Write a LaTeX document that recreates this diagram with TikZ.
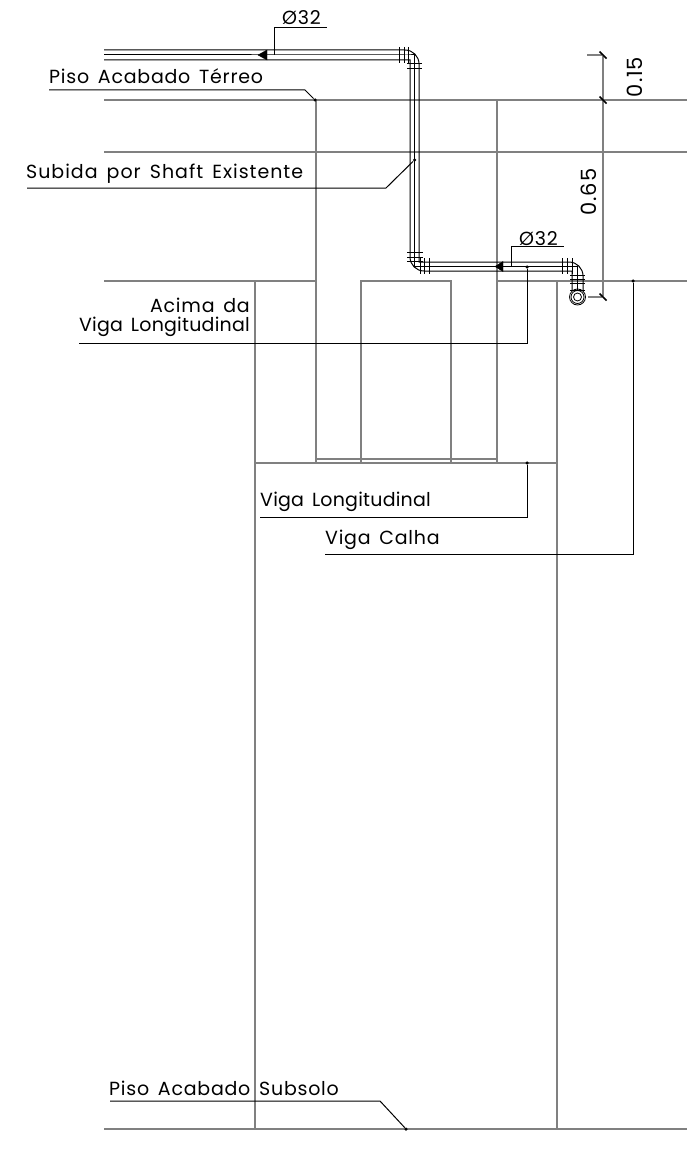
\documentclass[tikz,border=0pt]{standalone}
\usepackage{fontspec}
\usepackage{tikz}
\usetikzlibrary{calc}
\usetikzlibrary{positioning}
\setmainfont{Poppins}
\newfontfamily\cadfont[LetterSpace=4,WordSpace=1.5]{Poppins}
\newfontfamily\cadtight[LetterSpace=1.2,WordSpace=1.5]{Poppins}
\newfontfamily\cadwide[LetterSpace=5.2,WordSpace=1.5]{Poppins}
\tikzset{circ/.style = {fill, circle, inner sep = 0, minimum size = 3.5}}
\tikzset{lbl/.style = {inner sep = 0, font = \cadfont\fontsize{19}{19}\selectfont}}
\tikzset{lbltight/.style = {lbl, font = \cadtight\fontsize{19}{19}\selectfont}}
\tikzset{lblwide/.style = {lbl, font = \cadwide\fontsize{19}{19}\selectfont}}
\tikzset{lbldim/.style = {lbl, font = \cadfont\fontsize{21}{21}\selectfont, rotate = 90}}
\tikzset{wall/.style = {draw = mgrey, line width = 1.2}}
\tikzset{lead/.style = {draw = black, line width = 1}}
\tikzset{pipe/.style = {draw = black, line width = 1}}
\tikzset{dimtick/.style = {draw = black, line width = 1.5}}
\tikzset{flowtip/.style = {fill = black, draw = black, line join = miter}}
\definecolor{mgrey}{rgb}{0.5, 0.5, 0.5}
\begin{document}
\begin{tikzpicture}[x=1pt, y=-1pt]
      \useasboundingbox [fill=white] (0, 0) rectangle (687, 1153);

      % structure
      \draw [wall] (104, 100) -- (687, 100);
      \draw [wall] (104, 152) -- (687, 152);
      \draw [wall] (104, 281) -- (316, 281);
      \draw [wall] (497, 281) -- (687, 281);
      \draw [wall] (104, 1129) -- (687, 1129);
      \draw [wall] (316, 100) -- (316, 463);
      \draw [wall] (497, 100) -- (497, 463);
      \draw [wall] (255, 281) -- (255, 1129);
      \draw [wall] (557, 281) -- (557, 1129);
      \draw [wall] (361, 463) -- (361, 281) -- (451, 281) -- (451, 463);
      \draw [wall] (255, 463) -- (557, 463);
      \draw [wall] (316, 459) -- (497, 459);

      % dimensions
      \node (dimTop) [inner sep = 0] at (603, 55) {};
      \node (dimMid) [inner sep = 0] at (603, 100) {};
      \node (dimBot) [inner sep = 0] at (603, 297) {};
      \draw [wall] (dimTop) -- (dimBot);
      \draw [wall] (587, 55) -- (dimTop);
      \draw [wall] (587, 100) -- (dimMid);
      \draw [wall] (588, 297) -- (dimBot);
      \foreach \p in {dimTop, dimMid, dimBot}
        \draw [dimtick] ($(\p) + (-3.5, -3.5)$) -- ($(\p) + (3.5, 3.5)$);
      \node (dimA) [lbldim] at (634.5, 77) {0.15};
      \node (dimB) [lbldim] at (588.5, 192) {0.65};

      % pipe
      \draw [pipe] (104, 50) -- (405, 50) arc (-90:0:14) -- (419, 248) -- (419, 262) -- (569, 262) arc (-90:0:14) -- (583, 290);
      \draw [pipe] (104, 55) -- (408, 55) -- (414.5, 55) -- (414.5, 266.5) -- (577.5, 266.5) -- (577.5, 290);
      \draw [pipe] (104, 60) -- (410, 60) -- (410, 257) arc (180:90:14) -- (424, 271) -- (572, 271) -- (572, 290);
      \foreach \x in {399, 404, 408}
        \draw [pipe] (\x, 47) -- (\x, 63);
      \foreach \y in {64, 69}
        \draw [pipe] (407, \y) -- (422, \y);
      \foreach \y in {252, 257, 261}
        \draw [pipe] (407, \y) -- (423, \y);
      \foreach \x in {420, 424, 429, 562, 567, 572}
        \draw [pipe] (\x, 258) -- (\x, 274);
      \foreach \y in {275, 279, 283, 290}
        \draw [pipe] (570, \y) -- (585, \y);
      \node (riser) [circle, draw, line width = 0.8, minimum size = 16, inner sep = 0] at (577.5, 297) {};
      \node [circle, draw, line width = 0.8, minimum size = 13, inner sep = 0] at (riser) {};
      \node [circle, draw, line width = 0.8, minimum size = 8, inner sep = 0] at (riser) {};
      \draw [flowtip] (258, 55) -- (267, 50) -- (267, 60) -- cycle;
      \draw [flowtip] (495, 266.5) -- (503, 261.5) -- (503, 271.5) -- cycle;

      % diameters
      \node (sizeA) [lbl, anchor = base west] at (282, 25) {Ø32};
      \node (sizeB) [lbl, anchor = base west] at (519, 245) {Ø32};
      \draw [lead] (274, 55) -- (274, 28) -- (327, 28);
      \draw [lead] (511, 266) -- (511, 246) -- (564, 246);

      % labels
      \node (terreo) [lbl, anchor = base west] at (49, 84) {Piso Acabado Térreo};
      \node (dotTerreo) [circ] at (315, 100) {};
      \draw [lead] (49, 90) -- (305, 90) -- (dotTerreo);

      \node (shaft) [lblwide, anchor = base west] at (26, 178) {Subida por Shaft Existente};
      \node (dotShaft) [circ] at (414.5, 160) {};
      \draw [lead] (27, 188) -- (386, 188) -- (dotShaft);

      \node (acima) [lbl, anchor = base east] at (250, 312) {Acima da};
      \node (acimaViga) [lbltight, anchor = base east] at (250, 331) {Viga Longitudinal};
      \node (dotAcima) [circ] at (527, 267) {};
      \draw [lead] (79, 343) -- (527, 343) -- (dotAcima);

      \node (longit) [lbltight, anchor = base west] at (260, 506) {Viga Longitudinal};
      \node (dotLongit) [circ] at (527, 463) {};
      \draw [lead] (260, 517) -- (527, 517) -- (dotLongit);

      \node (calha) [lbl, anchor = base west] at (325, 544) {Viga Calha};
      \node (dotCalha) [circ] at (633, 281) {};
      \draw [lead] (325, 554) -- (633, 554) -- (dotCalha);

      \node (subsolo) [lbl, anchor = base west] at (109, 1095) {Piso Acabado Subsolo};
      \node (dotSubsolo) [circ] at (406, 1129) {};
      \draw [lead] (110, 1101) -- (380, 1101) -- (dotSubsolo);
    \end{tikzpicture}
\end{document}
